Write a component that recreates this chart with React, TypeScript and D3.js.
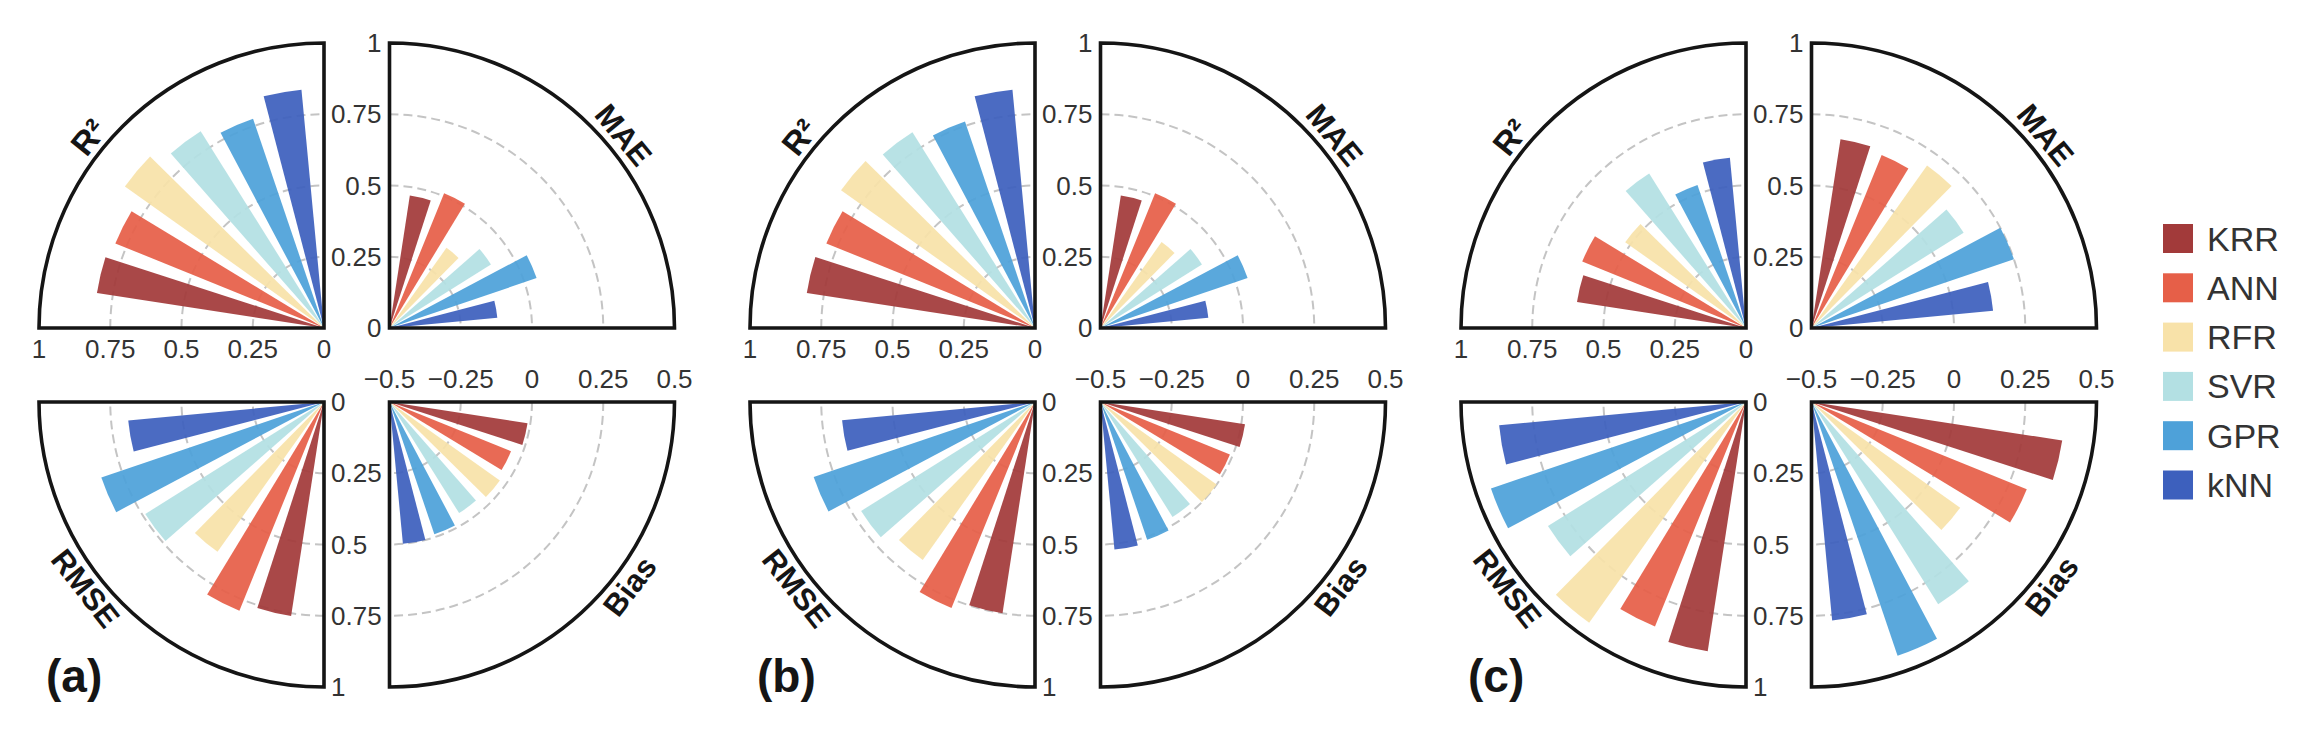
import { useEffect, useRef } from "react"
import * as d3 from "d3"

// models and their colours
const models = ["KRR", "ANN", "RFR", "SVR", "GPR", "kNN"]
const modelColors = ["#a23a3a", "#e65f48", "#f8e2a9", "#b3e0e3", "#4ea1d9", "#3d60bd"]
const panelNames = ["(a)", "(b)", "(c)"]

// metric values per panel, one entry per model
const r2Values = [
  [0.806, 0.79, 0.857, 0.815, 0.775, 0.84],
  [0.81, 0.79, 0.835, 0.81, 0.765, 0.84],
  [0.6, 0.62, 0.52, 0.64, 0.53, 0.6],
]
const maeValues = [
  [0.47, 0.51, 0.345, 0.42, 0.545, 0.38],
  [0.47, 0.51, 0.37, 0.42, 0.545, 0.38],
  [0.67, 0.655, 0.7, 0.63, 0.75, 0.64],
]
const rmseValues = [
  [0.76, 0.79, 0.645, 0.74, 0.825, 0.69],
  [0.75, 0.78, 0.68, 0.72, 0.82, 0.68],
  [0.885, 0.85, 0.95, 0.82, 0.945, 0.87],
]
const biasValues = [
  [-0.01, -0.04, -0.025, -0.04, -0.01, 0.0],
  [0.013, -0.01, 0.0, -0.024, 0.01, 0.02],
  [0.39, 0.315, 0.14, 0.337, 0.44, 0.27],
]

const unitTicks = [0, 0.25, 0.5, 0.75, 1]
const biasTicks = [-0.5, -0.25, 0, 0.25, 0.5]
const gridTicks = [0.25, 0.5, 0.75]

const W = 2308
const H = 731
const R = 285
const font = "'Liberation Sans', Arial, Helvetica, sans-serif"

const fmt = (t: number) => (t === 0 ? "0" : String(t).replace("-", "\u2212"))

export default function App() {
  const svgRef = useRef<SVGSVGElement>(null)

  useEffect(() => {
    if (!svgRef.current) return
    const svg = d3.select(svgRef.current)
    svg.selectAll("*").remove()

    const rUnit = d3.scaleLinear().domain([0, 1]).range([0, R])
    const rBias = d3.scaleLinear().domain([-0.5, 0.5]).range([0, R])
    const deg = (a: number) => (a * Math.PI) / 180

    const panelX = d3.scaleLinear().domain([0, 1]).range([324, 1035])
    const gapX = 65.5
    const topY = 328
    const botY = 402

    // quadrant setup: q = quarter index (clockwise from 12 o'clock)
    const metrics = [
      { key: "MAE", q: 0, right: true, bottom: false, values: maeValues, scale: rUnit, titleAngle: 50.5 },
      { key: "Bias", q: 1, right: true, bottom: true, values: biasValues, scale: rBias, titleAngle: 127.5 },
      { key: "RMSE", q: 2, right: false, bottom: true, values: rmseValues, scale: rUnit, titleAngle: 232 },
      { key: "R\u00b2", q: 3, right: false, bottom: false, values: r2Values, scale: rUnit, titleAngle: 309 },
    ]

    const slot = 90 / 6.75
    const halfWidth = 4.6

    const wedge = d3.arc<{ r: number; a0: number; a1: number }>()
      .innerRadius(0)
      .outerRadius((d) => d.r)
      .startAngle((d) => d.a0)
      .endAngle((d) => d.a1)

    const arcLine = (r: number, a0: number, a1: number) => {
      const p = d3.path()
      p.arc(0, 0, r, a0 - Math.PI / 2, a1 - Math.PI / 2)
      return p.toString()
    }

    panelNames.forEach((name, p) => {
      const cxL = panelX(p)
      const cxR = cxL + gapX

      metrics.forEach((m) => {
        const cx = m.right ? cxR : cxL
        const cy = m.bottom ? botY : topY
        const a0 = deg(m.q * 90)
        const a1 = deg((m.q + 1) * 90)
        const g = svg.append("g").attr("transform", `translate(${cx},${cy})`)

        // dashed grid arcs
        g.selectAll(".grid")
          .data(gridTicks)
          .enter()
          .append("path")
          .attr("d", (t) => arcLine(rUnit(t), a0, a1))
          .attr("fill", "none")
          .attr("stroke", "#c4c4c4")
          .attr("stroke-width", 2)
          .attr("stroke-dasharray", "9,5")

        // bars
        g.selectAll(".bar")
          .data(m.values[p])
          .enter()
          .append("path")
          .attr("d", (v, i) => {
            const c = m.q * 90 + slot * (i + 1)
            return wedge({ r: m.scale(v), a0: deg(c - halfWidth), a1: deg(c + halfWidth) })
          })
          .attr("fill", (_, i) => modelColors[i])
          .attr("fill-opacity", 0.93)

        // frame
        g.append("path")
          .attr("d", wedge({ r: R, a0, a1 }))
          .attr("fill", "none")
          .attr("stroke", "#151515")
          .attr("stroke-width", 3.6)
          .attr("stroke-linejoin", "miter")

        // title along the rim
        const ta = deg(m.titleAngle)
        const tr = R + 18
        const rot = m.bottom ? m.titleAngle - 180 : m.titleAngle > 180 ? m.titleAngle - 360 : m.titleAngle
        svg
          .append("text")
          .attr("transform", `translate(${cx + tr * Math.sin(ta)},${cy - tr * Math.cos(ta)}) rotate(${rot})`)
          .attr("text-anchor", "middle")
          .attr("dominant-baseline", "central")
          .attr("font-family", font)
          .attr("font-size", m.key === "R\u00b2" ? 33 : 31)
          .attr("font-weight", "bold")
          .attr("fill", "#151515")
          .text(m.key)
      })

      const tickText = (sel: d3.Selection<SVGTextElement, number, SVGGElement, unknown>) =>
        sel
          .attr("font-family", font)
          .attr("font-size", 26)
          .attr("fill", "#333")
          .attr("dominant-baseline", "central")
          .text((t) => fmt(t))

      // R² axis below the top-left quadrant
      svg.append("g").selectAll("text").data(unitTicks).enter().append("text")
        .attr("x", (t) => cxL - rUnit(t))
        .attr("y", topY + 21)
        .attr("text-anchor", "middle")
        .call(tickText)

      // MAE axis, left of the top-right quadrant
      svg.append("g").selectAll("text").data(unitTicks).enter().append("text")
        .attr("x", cxR - 8)
        .attr("y", (t) => topY - rUnit(t))
        .attr("text-anchor", "end")
        .call(tickText)

      // RMSE axis, right of the bottom-left quadrant
      svg.append("g").selectAll("text").data(unitTicks).enter().append("text")
        .attr("x", cxL + 7)
        .attr("y", (t) => botY + rUnit(t))
        .attr("text-anchor", "start")
        .call(tickText)

      // Bias axis above the bottom-right quadrant
      svg.append("g").selectAll("text").data(biasTicks).enter().append("text")
        .attr("x", (t) => cxR + rBias(t))
        .attr("y", botY - 23)
        .attr("text-anchor", "middle")
        .call(tickText)

      // panel letter
      svg
        .append("text")
        .attr("x", cxL - 278)
        .attr("y", 692)
        .attr("font-family", font)
        .attr("font-size", 46)
        .attr("font-weight", "bold")
        .attr("fill", "#151515")
        .text(name)
    })

    // legend
    const legendY = d3.scaleLinear().domain([0, 1]).range([238.5, 287.8])
    const legend = svg.append("g")
    legend.selectAll("rect").data(models).enter().append("rect")
      .attr("x", 2163)
      .attr("y", (_, i) => legendY(i) - 14.5)
      .attr("width", 30)
      .attr("height", 29)
      .attr("fill", (_, i) => modelColors[i])
    legend.selectAll("text").data(models).enter().append("text")
      .attr("x", 2207)
      .attr("y", (_, i) => legendY(i))
      .attr("dominant-baseline", "central")
      .attr("font-family", font)
      .attr("font-size", 34)
      .attr("fill", "#333")
      .text((d) => d)
  }, [])

  return (
    <svg
      ref={svgRef}
      width={W}
      height={H}
      style={{ position: "absolute", left: 0, top: 0, background: "#fff" }}
    />
  )
}
